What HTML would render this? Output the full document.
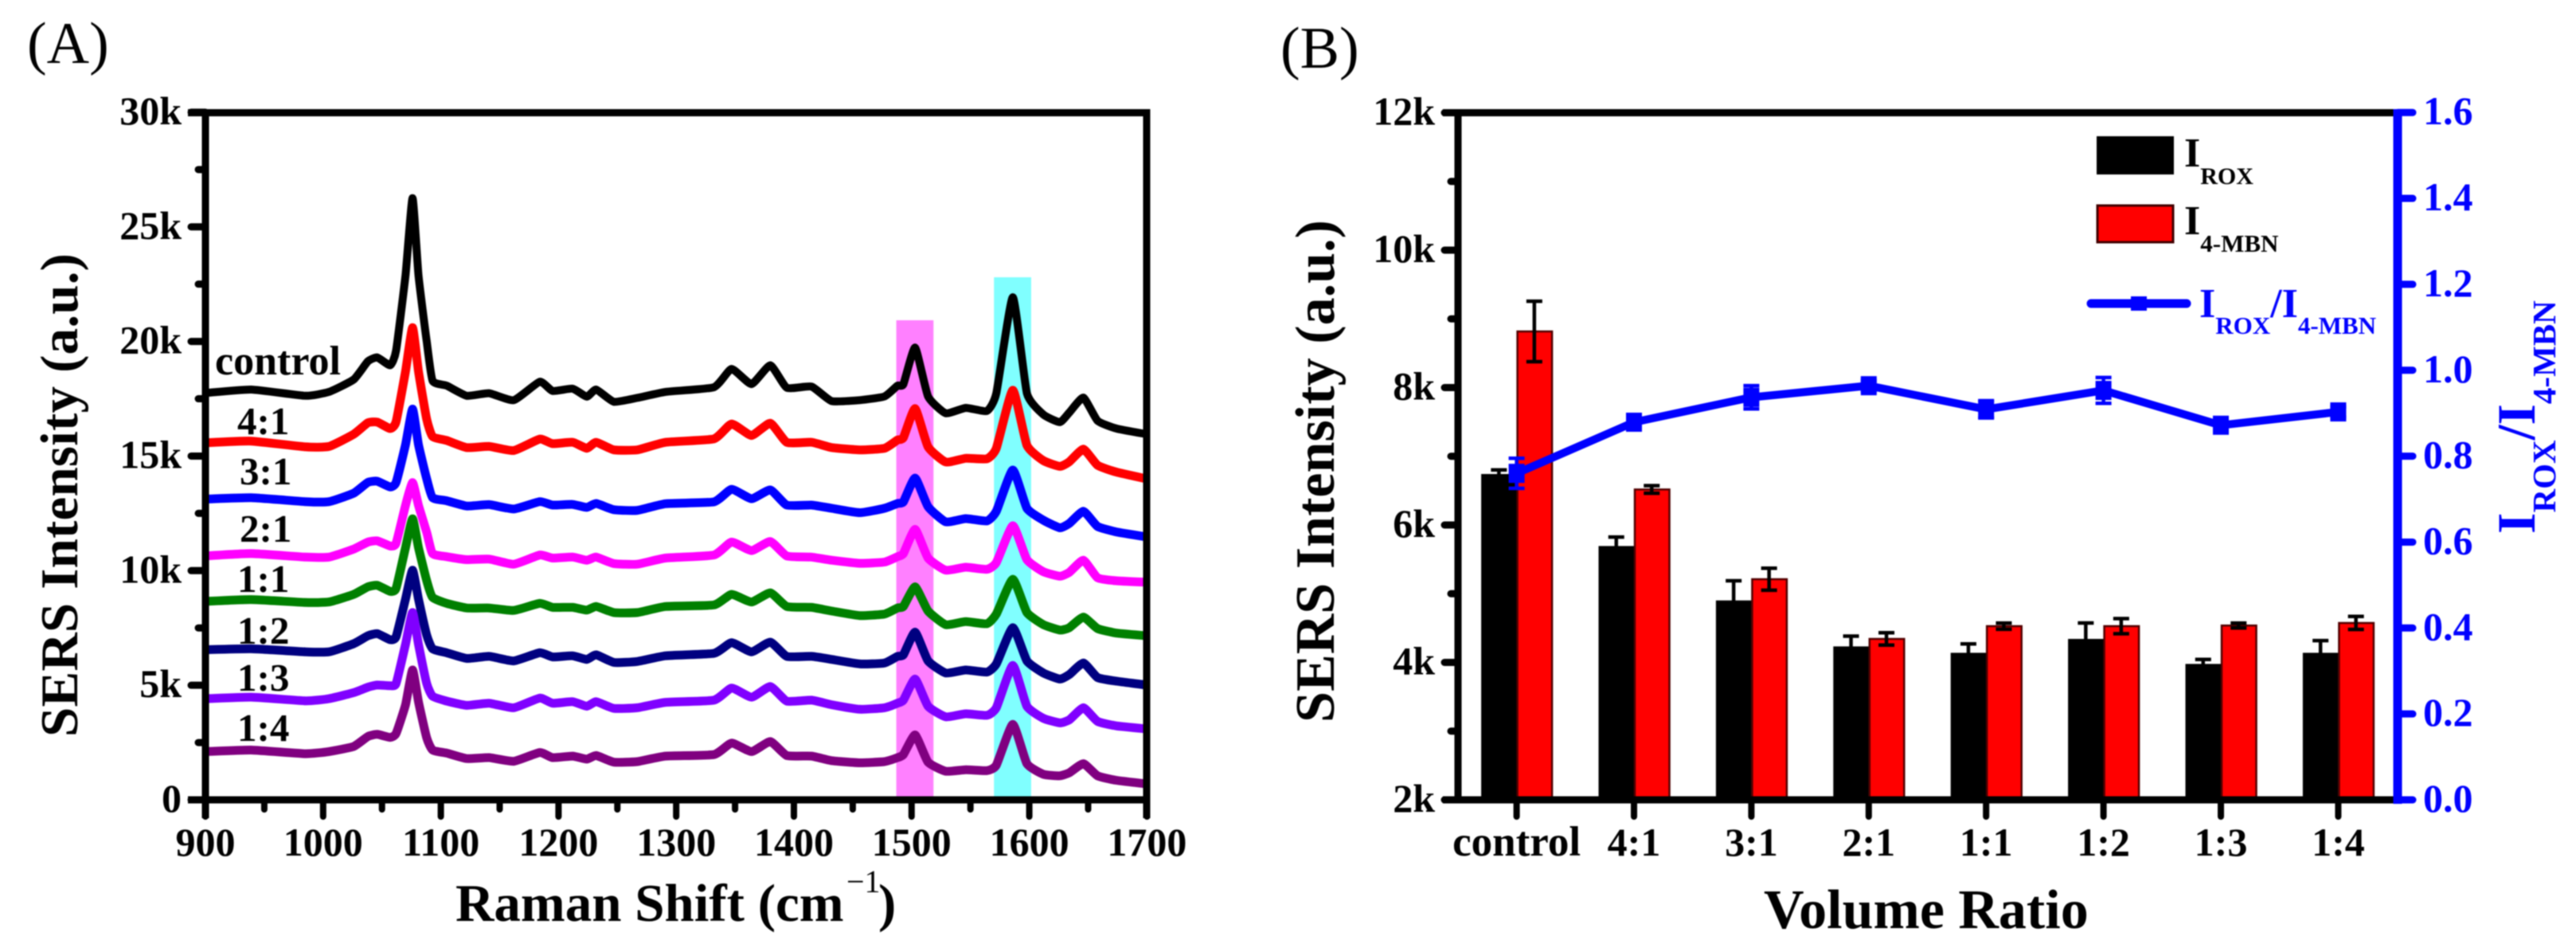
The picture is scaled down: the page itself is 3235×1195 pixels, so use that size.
<!DOCTYPE html>
<html lang="en">
<head>
<meta charset="utf-8">
<title>SERS spectra and intensity ratios</title>
<style>
html,body{margin:0;padding:0;background:#fff;width:3235px;height:1195px;overflow:hidden}
svg{display:block;font-family:"Liberation Serif",serif;filter:blur(0.7px)}
text{font-weight:bold}
</style>
</head>
<body>
<svg id="chart" xmlns="http://www.w3.org/2000/svg" width="3235" height="1195" viewBox="0 0 3235 1195">
  <rect width="3235" height="1195" fill="#fff"/>
  <text x="34" y="79" font-size="74" style="font-weight:normal">(A)</text>
  <text x="1608" y="85" font-size="74" style="font-weight:normal">(B)</text>
  <g id="panelA"></g>
  <g id="panelB"></g>

  <text transform="translate(97,925) rotate(-90)" font-size="67" textLength="607" xml:space="preserve">SERS Intensity (a.u.)</text>
  <text font-size="67" x="572" y="1156">Raman Shift (cm</text>
  <text font-size="40" x="1063" y="1120" style="font-weight:normal">&#8722;1</text>
  <text font-size="67" x="1103" y="1156">)</text>

  <text font-size="52" x="270" y="470">control</text>
  <text font-size="49" x="298" y="545">4:1</text>
  <text font-size="49" x="301" y="608">3:1</text>
  <text font-size="49" x="301" y="680">2:1</text>
  <text font-size="49" x="298" y="743">1:1</text>
  <text font-size="49" x="298" y="808">1:2</text>
  <text font-size="49" x="298" y="867">1:3</text>
  <text font-size="49" x="298" y="930">1:4</text>

  <text transform="translate(1675,907) rotate(-90)" font-size="70" textLength="631" xml:space="preserve">SERS Intensity (a.u.)</text>
  <text font-size="70" x="2215" y="1165">Volume Ratio</text>

  <g transform="translate(3183,670) rotate(-90)" fill="#0000ff">
    <text font-size="68" x="0" y="0">I<tspan font-size="41" dy="26">ROX</tspan><tspan dy="-26">/I</tspan><tspan font-size="41" dy="26">4-MBN</tspan></text>
  </g>

  <g>
    <rect x="2633" y="171" width="97" height="48" fill="#000"/>
    <text x="2743" y="209" font-size="52">I<tspan font-size="30" dy="22">ROX</tspan></text>
    <rect x="2634" y="258" width="95" height="46" fill="#ff0000" stroke="#400000" stroke-width="3"/>
    <text x="2743" y="294" font-size="52">I<tspan font-size="31" dy="22">4-MBN</tspan></text>
    <line x1="2626" y1="381" x2="2746" y2="381" stroke="#0000ff" stroke-width="11" stroke-linecap="round"/>
    <rect x="2676" y="372" width="20" height="18" fill="#0000ff"/>
    <text x="2762" y="398" font-size="52" fill="#0000ff">I<tspan font-size="31" dy="21">ROX</tspan><tspan dy="-21">/I</tspan><tspan font-size="31" dy="21">4-MBN</tspan></text>
  </g>
</svg>

<script>
// ---------- Panel A data ----------
const wavenumbers = [900,939,985,1005,1026,1038,1046,1057,1062,1070,1076,1081,1088,1093,1105,1122,1141,1162,1184,1195,1212,1224,1232,1247,1267,1291,1332,1347,1364,1380,1394,1415,1432,1456,1477,1488,1493,1503,1514,1529,1546,1564,1572,1586,1598,1612,1626,1634,1646,1658,1674,1700];
const spectrumControl = [17750,17900,17630,17800,18340,19130,19300,18960,19600,22900,26250,22900,20000,18280,18070,17630,17740,17440,18240,17840,17940,17590,17900,17370,17540,17800,18000,18800,18140,18960,17980,18030,17400,17440,17600,18070,18130,19730,17600,16870,17100,16970,17740,21930,17740,16810,16480,16900,17550,16540,16200,15950];
const spectrum4to1 = [15580,15650,15400,15420,15950,16450,16480,16200,16500,18700,20600,18700,16600,15850,15680,15370,15420,15240,15740,15540,15600,15340,15600,15270,15270,15600,15750,16400,15900,16430,15600,15600,15370,15270,15340,15700,15800,17070,15400,14740,14900,14880,15340,17870,15470,14800,14550,14750,15300,14600,14300,14000];
const spectrum3to1 = [13120,13180,13010,13010,13380,13850,13900,13650,13850,15500,17050,15500,14000,13180,13050,12820,12880,12690,13010,12860,12890,12760,12930,12660,12630,12920,13000,13550,13140,13520,12860,12860,12720,12530,12720,12930,13000,14040,12790,12130,12270,12170,12590,14390,12720,12200,11870,12060,12590,11930,11690,11470];
const spectrum2to1 = [10640,10745,10590,10590,10940,11246,11300,11075,11200,12855,13840,12855,11670,10745,10610,10480,10505,10280,10680,10550,10590,10455,10590,10310,10280,10550,10680,11246,10875,11270,10640,10590,10455,10320,10375,10610,10745,11800,10550,10020,10150,10060,10350,11960,10480,9953,9755,9927,10455,9690,9558,9490];
const spectrum1to1 = [8660,8740,8610,8634,8964,9294,9360,9096,9228,11008,12260,11008,9557,8832,8570,8370,8370,8265,8570,8397,8397,8278,8436,8172,8172,8436,8502,8964,8634,9030,8436,8397,8238,8040,8106,8370,8436,9294,8238,7645,7777,7684,8106,9624,8172,7645,7408,7513,7975,7473,7276,7157];
const spectrum1to2 = [6550,6590,6458,6458,6814,7157,7249,6985,7117,8766,10019,8766,7183,6590,6418,6168,6260,6062,6418,6234,6286,6128,6326,5996,6036,6286,6392,6854,6458,6880,6260,6260,6128,5930,5970,6260,6326,7315,6062,5535,5666,5574,5930,7513,6062,5535,5270,5468,5970,5337,5178,5007];
const spectrum1to3 = [4413,4480,4320,4413,4677,4915,5007,4980,5073,6788,8172,6788,5073,4519,4308,4123,4215,4018,4440,4215,4281,4083,4281,3991,4018,4255,4347,4875,4480,4941,4308,4347,4149,3952,4018,4215,4347,5270,4083,3622,3754,3688,4018,5864,4083,3556,3358,3490,4018,3424,3226,3094];
const spectrum1to4 = [2105,2171,2013,2105,2330,2765,2857,2725,2897,4150,5666,4281,2699,2171,2039,1802,1841,1683,2066,1841,1907,1775,1933,1644,1670,1907,1973,2475,2105,2540,1933,1907,1710,1617,1670,1841,1973,2831,1644,1248,1314,1274,1512,3292,1578,1116,1050,1182,1578,1050,852,694];
const spectrumNames = ['control','4-1','3-1','2-1','1-1','1-2','1-3','1-4'];
const xTicksA = [900,1000,1100,1200,1300,1400,1500,1600,1700];
const xMinorA = [950,1050,1150,1250,1350,1450,1550,1650];
const yTicksA = [0,5000,10000,15000,20000,25000,30000];
const yMinorA = [2500,7500,12500,17500,22500,27500];
const yTickLabelsA = ['0','5k','10k','15k','20k','25k','30k'];
const band1504 = [1487,1518.6,20925];
const band1586 = [1570,1601.6,22800];

// ---------- Panel B data ----------
const ratioCategories = ['control','4:1','3:1','2:1','1:1','1:2','1:3','1:4'];
const iRox = [6742,5694,4902,4233,4140,4342,3978,4140];
const iRoxErr = [60,130,286,150,130,232,65,178];
const i4Mbn = [8817,6517,5211,4342,4528,4528,4537,4574];
const i4MbnErr = [440,55,160,90,45,110,35,95];
const ratio = [0.76,0.879,0.937,0.964,0.909,0.953,0.872,0.903];
const ratioErr = [0.035,0.012,0.027,0.012,0.02,0.03,0.012,0.012];
const yTicksB = [2000,4000,6000,8000,10000,12000];
const yMinorB = [3000,5000,7000,9000,11000];
const yTickLabelsB = ['2k','4k','6k','8k','10k','12k'];
const rightTicks = [0,0.2,0.4,0.6,0.8,1.0,1.2,1.4,1.6];
const rightTickLabels = ['0.0','0.2','0.4','0.6','0.8','1.0','1.2','1.4','1.6'];

// ---------- Axis functions ----------
const xA = v => 258 + (v - 900) * 1.478;
const yA = v => 1004 - v * 0.02877;
const xB = i => 1904.6 + 147.4 * i;
const yB = v => 1004 - (v - 2000) * 0.08625;
const yR = v => 1004 - v * 539.25;

const NS = 'http://www.w3.org/2000/svg';
function mk(parent, tag, attrs, txt) {
  const el = document.createElementNS(NS, tag);
  for (const k in attrs) el.setAttribute(k, attrs[k]);
  if (txt !== undefined) el.textContent = txt;
  parent.appendChild(el);
  return el;
}
function smoothPath(pts) {
  let d = 'M' + pts[0][0].toFixed(1) + ' ' + pts[0][1].toFixed(1);
  for (let i = 0; i < pts.length - 1; i++) {
    const p0 = pts[Math.max(i - 1, 0)], p1 = pts[i], p2 = pts[i + 1], p3 = pts[Math.min(i + 2, pts.length - 1)];
    const k = 0.08;
    const c1x = p1[0] + (p2[0] - p0[0]) * k, c1y = p1[1] + (p2[1] - p0[1]) * k;
    const c2x = p2[0] - (p3[0] - p1[0]) * k, c2y = p2[1] - (p3[1] - p1[1]) * k;
    d += 'C' + c1x.toFixed(1) + ' ' + c1y.toFixed(1) + ' ' + c2x.toFixed(1) + ' ' + c2y.toFixed(1) + ' ' + p2[0].toFixed(1) + ' ' + p2[1].toFixed(1);
  }
  return d;
}

// ---------- Panel A ----------
const A = document.getElementById('panelA');
const b1 = mk(A, 'rect', {x: xA(band1504[0]), y: yA(band1504[2]), width: xA(band1504[1]) - xA(band1504[0]), height: 1004 - yA(band1504[2]), fill: '#ff80ff'});


const b2 = mk(A, 'rect', {x: xA(band1586[0]), y: yA(band1586[2]), width: xA(band1586[1]) - xA(band1586[0]), height: 1004 - yA(band1586[2]), fill: '#80ffff'});



const spectra = [spectrumControl, spectrum4to1, spectrum3to1, spectrum2to1, spectrum1to1, spectrum1to2, spectrum1to3, spectrum1to4];
const spectrumColors = ['#000000','#ff0000','#0000ff','#ff00ff','#008000','#000080','#8000ff','#800080'];
spectra.forEach((vals, s) => {
  const pts = vals.map((v, i) => [xA(wavenumbers[i]), yA(v)]);
  const p = mk(A, 'path', {d: smoothPath(pts), fill: 'none', stroke: spectrumColors[s], 'stroke-width': s === 0 ? 10 : 11, 'stroke-linejoin': 'round'});
  
  
});

function axisLine(g, x1, y1, x2, y2, color, w, cap) {
  return mk(g, 'line', {x1, y1, x2, y2, stroke: color, 'stroke-width': w, 'stroke-linecap': cap || 'butt'});
}
const fA = mk(A, 'g', {});


axisLine(fA, 236, 141.5, 1444, 141.5, '#000', 9);
axisLine(fA, 236, 1004, 1444, 1004, '#000', 9);
axisLine(fA, 258, 137, 258, 1027, '#000', 9);
axisLine(fA, 1440, 137, 1440, 1027, '#000', 9);

xTicksA.forEach(v => {
  const t = axisLine(A, xA(v), 1004, xA(v), 1025, '#000', 8, 'round');
  
  
  const l = mk(A, 'text', {x: xA(v), y: 1074, 'font-size': 50, 'text-anchor': 'middle'}, String(v));
  
  
});
xMinorA.forEach(v => {
  const t = axisLine(A, xA(v), 1004, xA(v), 1016, '#000', 8, 'round');
  
  
});
yTicksA.forEach((v, i) => {
  const t = axisLine(A, 240, yA(v), 258, yA(v), '#000', 9, 'round');
  
  
  const l = mk(A, 'text', {x: 228, y: yA(v) + 15, 'font-size': 50, 'text-anchor': 'end'}, yTickLabelsA[i]);
  
  
});
yMinorA.forEach(v => {
  const t = axisLine(A, 249, yA(v), 258, yA(v), '#000', 9, 'round');
  
  
});

// ---------- Panel B ----------
const B = document.getElementById('panelB');
const barW = 44.5;
function errBar(g, cx, top, bottom, color, capW, w) {
  axisLine(g, cx, top, cx, bottom, color, w);
  axisLine(g, cx - capW / 2, top, cx + capW / 2, top, color, w);
  axisLine(g, cx - capW / 2, bottom, cx + capW / 2, bottom, color, w);
}
ratioCategories.forEach((c, i) => {
  const bk = mk(B, 'rect', {x: xB(i) - barW, y: yB(iRox[i]), width: barW, height: 1004 - yB(iRox[i]), fill: '#000'});
  
  
  const rd = mk(B, 'rect', {x: xB(i) + 1, y: yB(i4Mbn[i]), width: barW - 1, height: 1004 - yB(i4Mbn[i]), fill: '#ff0000', stroke: '#500000', 'stroke-width': 2.5});
  
  
  const e1 = mk(B, 'g', {});
  
  
  errBar(e1, xB(i) - barW / 2, yB(iRox[i] + iRoxErr[i]), yB(iRox[i] - iRoxErr[i]), '#000', 20, 4.5);
  const e2 = mk(B, 'g', {});
  
  
  errBar(e2, xB(i) + barW / 2, yB(i4Mbn[i] + i4MbnErr[i]), yB(i4Mbn[i] - i4MbnErr[i]), '#000', 20, 4.5);
});

const fB = mk(B, 'g', {});


axisLine(fB, 1812, 141.5, 3011, 141.5, '#000', 9);
axisLine(fB, 1812, 1004, 3011, 1004, '#000', 9);
axisLine(fB, 1831, 137, 1831, 1008, '#000', 9);

ratioCategories.forEach((c, i) => {
  const t = axisLine(B, xB(i), 1004, xB(i), 1025, '#000', 8, 'round');
  
  
  const l = mk(B, 'text', {x: xB(i), y: 1074, 'font-size': i === 0 ? 53 : 50, 'text-anchor': 'middle'}, c);
  
  
});
yTicksB.forEach((v, i) => {
  const t = axisLine(B, 1814, yB(v), 1831, yB(v), '#000', 9, 'round');
  
  
  const l = mk(B, 'text', {x: 1802, y: yB(v) + 15, 'font-size': 50, 'text-anchor': 'end'}, yTickLabelsB[i]);
  
  
});
yMinorB.forEach(v => {
  const t = axisLine(B, 1822, yB(v), 1831, yB(v), '#000', 9, 'round');
  
  
});

const rAxis = axisLine(B, 3011, 137, 3011, 1009, '#0000ff', 11);


rightTicks.forEach((v, i) => {
  const t = axisLine(B, 3011, yR(v), 3030, yR(v), '#0000ff', 9, 'round');
  
  
  const l = mk(B, 'text', {x: 3043, y: yR(v) + 15, 'font-size': 50, fill: '#0000ff'}, rightTickLabels[i]);
  
  
});

const ratioLine = mk(B, 'polyline', {points: ratio.map((v, i) => xB(i) + ',' + yR(v)).join(' '), fill: 'none', stroke: '#0000ff', 'stroke-width': 10, 'stroke-linejoin': 'round'});


ratio.forEach((v, i) => {
  const c = ratioCategories[i].replace(':', '-');
  const e = mk(B, 'g', {});
  
  
  errBar(e, xB(i), yR(v + ratioErr[i]), yR(v - ratioErr[i]), '#0000ff', 20, 4.5);
  const m = mk(B, 'rect', {x: xB(i) - 10, y: yR(v) - 12, width: 20, height: 24, fill: '#0000ff'});
  
  
});
</script>
</body>
</html>
